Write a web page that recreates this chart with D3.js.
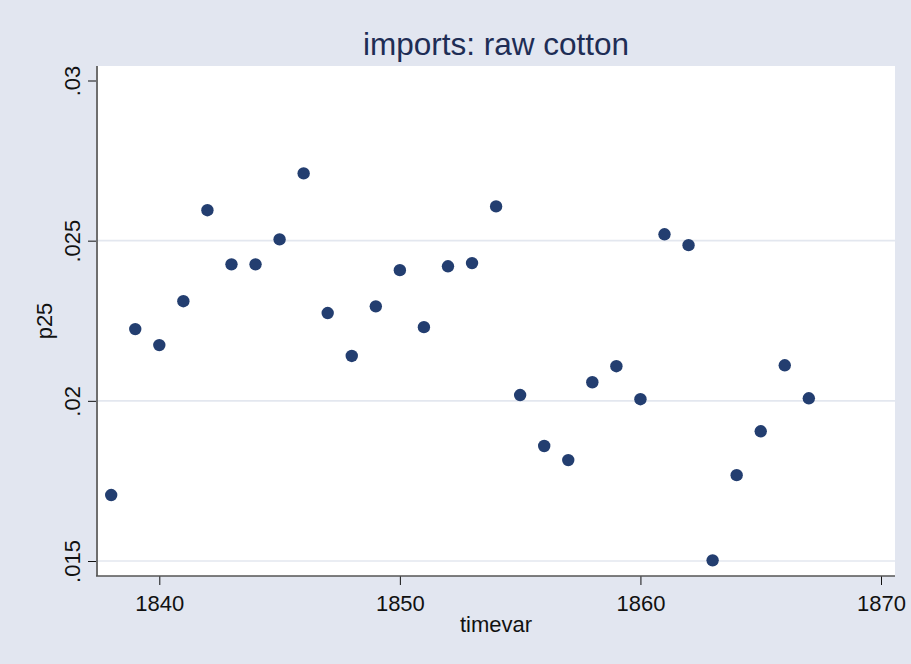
<!DOCTYPE html>
<html>
<head>
<meta charset="utf-8">
<script src="https://cdn.jsdelivr.net/npm/d3@7"></script>
<style>
  body { margin: 0; background: #e2e6f0; }
  svg { display: block; font-family: "Liberation Sans", Arial, sans-serif; }
</style>
</head>
<body>
<div id="chart"></div>
<script>
  // data
  const years = [1838, 1839, 1840, 1841, 1842, 1843, 1844, 1845, 1846, 1847,
    1848, 1849, 1850, 1851, 1852, 1853, 1854, 1855, 1856, 1857,
    1858, 1859, 1860, 1861, 1862, 1863, 1864, 1865, 1866, 1867];
  const p25 = [.01706, .02224, .02174, .02311, .02595, .02426, .02426, .02504, .0271, .02274,
    .0214, .02295, .02408, .0223, .0242, .0243, .02607, .02018, .01859, .01815,
    .02058, .02108, .02005, .0252, .02486, .01502, .01768, .01905, .02111, .02008];
  const xTicks = [1840, 1850, 1860, 1870];
  const yTicks = [.015, .02, .025, .03];
  const yGrid = [.015, .02, .025];
  const yTickLabels = ['.015', '.02', '.025', '.03'];

  const width = 911, height = 664;
  const plot = { left: 97, right: 895, top: 66, bottom: 576 };

  const x = d3.scaleLinear().domain([1840, 1870]).range([159.3, 881]);
  const y = d3.scaleLinear().domain([.015, .03]).range([561, 80.5]);

  const svg = d3.select('#chart').append('svg')
    .attr('width', width)
    .attr('height', height);

  svg.append('rect')
    .attr('width', width).attr('height', height)
    .attr('fill', '#e2e6f0');

  svg.append('rect')
    .attr('x', plot.left).attr('y', plot.top)
    .attr('width', plot.right - plot.left)
    .attr('height', plot.bottom - plot.top)
    .attr('fill', '#ffffff');

  // gridlines
  svg.append('g').selectAll('line')
    .data(yGrid)
    .enter()
    .append('line')
    .attr('x1', plot.left).attr('x2', plot.right)
    .attr('y1', d => y(d)).attr('y2', d => y(d))
    .attr('stroke', '#e3e7ef')
    .attr('stroke-width', 1.6);

  // y axis
  const yAxis = d3.axisLeft(y)
    .tickValues(yTicks)
    .tickSize(9)
    .tickFormat((d, i) => yTickLabels[i]);
  const gY = svg.append('g')
    .attr('transform', `translate(${plot.left},0)`)
    .call(yAxis);
  gY.select('.domain').remove();
  gY.selectAll('.tick line').attr('stroke', '#111');
  gY.selectAll('.tick text')
    .attr('x', 0).attr('dy', 0)
    .attr('transform', 'translate(-17,0) rotate(-90)')
    .attr('text-anchor', 'middle')
    .attr('font-size', 22)
    .attr('fill', '#111');
  svg.append('line')
    .attr('x1', plot.left).attr('x2', plot.left)
    .attr('y1', plot.top).attr('y2', plot.bottom)
    .attr('stroke', '#6e6e6e')
    .attr('stroke-width', 2);

  // x axis
  const xAxis = d3.axisBottom(x)
    .tickValues(xTicks)
    .tickSize(9)
    .tickFormat(d3.format('d'));
  const gX = svg.append('g')
    .attr('transform', `translate(0,${plot.bottom})`)
    .call(xAxis);
  gX.select('.domain').remove();
  gX.selectAll('.tick line').attr('stroke', '#111');
  gX.selectAll('.tick text')
    .attr('y', 35).attr('dy', 0)
    .attr('font-size', 22)
    .attr('fill', '#111');
  svg.append('line')
    .attr('x1', plot.left - 1).attr('x2', plot.right)
    .attr('y1', plot.bottom).attr('y2', plot.bottom)
    .attr('stroke', '#555')
    .attr('stroke-width', 1.6);

  // points
  svg.append('g').selectAll('circle')
    .data(years)
    .enter()
    .append('circle')
    .attr('cx', d => x(d))
    .attr('cy', (d, i) => y(p25[i]))
    .attr('r', 6.2)
    .attr('fill', '#233e70');

  // titles
  svg.append('text')
    .attr('x', (plot.left + plot.right) / 2)
    .attr('y', 55)
    .attr('text-anchor', 'middle')
    .attr('font-size', 31.5)
    .attr('fill', '#1e2d55')
    .text('imports: raw cotton');

  svg.append('text')
    .attr('x', (plot.left + plot.right) / 2)
    .attr('y', 632)
    .attr('text-anchor', 'middle')
    .attr('font-size', 22)
    .attr('fill', '#111')
    .text('timevar');

  svg.append('text')
    .attr('transform', `translate(52,${(plot.top + plot.bottom) / 2}) rotate(-90)`)
    .attr('text-anchor', 'middle')
    .attr('font-size', 22)
    .attr('fill', '#111')
    .text('p25');
</script>
</body>
</html>
